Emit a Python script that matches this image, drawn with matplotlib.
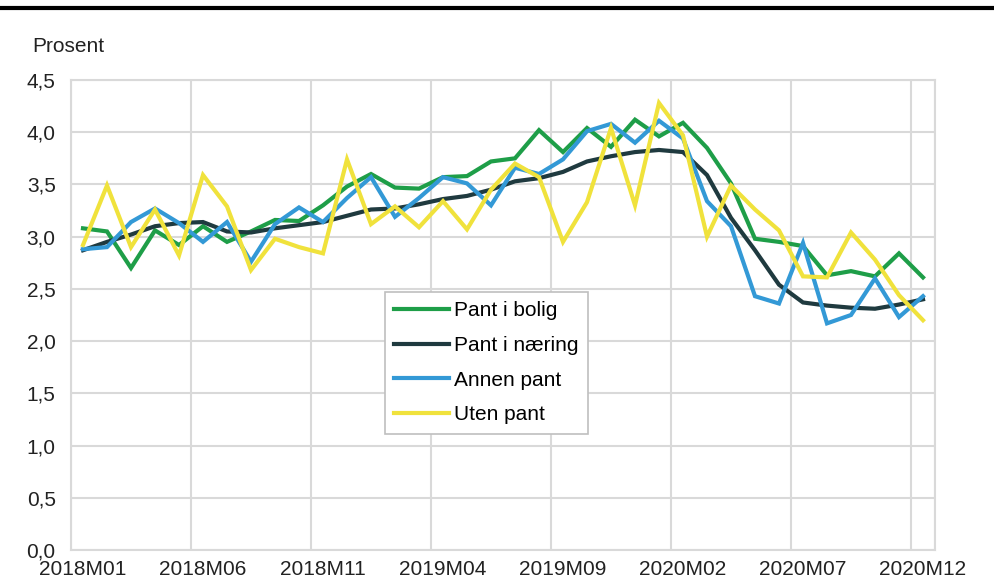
import numpy as np
import matplotlib.pyplot as plt
from matplotlib.lines import Line2D
from matplotlib.ticker import FuncFormatter, MultipleLocator

plt.rcParams['font.family'] = ['Liberation Sans', 'DejaVu Sans']

# Månedlige kategorier 2018M01 - 2020M12
maaneder = [f"{aar}M{m:02d}" for aar in (2018, 2019, 2020) for m in range(1, 13)]

pant_i_bolig = [3.08, 3.05, 2.70, 3.06, 2.92, 3.10, 2.95, 3.05, 3.16, 3.15,
                3.30, 3.48, 3.60, 3.47, 3.46, 3.57, 3.58, 3.72, 3.75, 4.02,
                3.81, 4.04, 3.86, 4.12, 3.96, 4.09, 3.85, 3.51, 2.98, 2.95,
                2.91, 2.63, 2.67, 2.62, 2.84, 2.61]
pant_i_naering = [2.87, 2.95, 3.02, 3.10, 3.13, 3.14, 3.05, 3.04, 3.08, 3.11,
                  3.14, 3.20, 3.26, 3.27, 3.31, 3.36, 3.39, 3.45, 3.53, 3.56,
                  3.62, 3.72, 3.77, 3.81, 3.83, 3.81, 3.59, 3.18, 2.87, 2.54,
                  2.37, 2.34, 2.32, 2.31, 2.35, 2.40]
annen_pant = [2.88, 2.90, 3.14, 3.27, 3.13, 2.95, 3.14, 2.76, 3.12, 3.28,
              3.14, 3.37, 3.57, 3.19, 3.37, 3.57, 3.51, 3.30, 3.66, 3.60,
              3.74, 4.01, 4.08, 3.90, 4.11, 3.94, 3.34, 3.10, 2.43, 2.36,
              2.94, 2.17, 2.25, 2.60, 2.23, 2.43]
uten_pant = [2.92, 3.49, 2.90, 3.26, 2.82, 3.59, 3.29, 2.68, 2.98, 2.90,
             2.84, 3.74, 3.12, 3.29, 3.09, 3.34, 3.07, 3.45, 3.70, 3.57,
             2.95, 3.33, 4.04, 3.30, 4.28, 3.97, 3.00, 3.49, 3.26, 3.06,
             2.62, 2.61, 3.04, 2.78, 2.44, 2.20]

serier = [
    ("Pant i bolig", pant_i_bolig, "#1e9e48"),
    ("Pant i næring", pant_i_naering, "#1f3a3f"),
    ("Annen pant", annen_pant, "#3399d6"),
    ("Uten pant", uten_pant, "#f0e23c"),
]

fig = plt.figure(figsize=(9.95, 5.83), dpi=100)
ax = fig.add_axes([71 / 995, 1 - 550 / 583, (935 - 71) / 995, (550 - 80) / 583])

x = np.arange(len(maaneder))
for navn, verdier, farge in serier:
    ax.plot(x, verdier, color=farge, lw=3, label=navn, solid_joinstyle='miter', zorder=3)

grid_farge = '#d9d9d9'
ax.set_xlim(-0.5, len(maaneder) - 0.5)
ax.set_ylim(0, 4.5)
ax.yaxis.set_major_locator(MultipleLocator(0.5))
ax.yaxis.set_major_formatter(FuncFormatter(lambda v, p: f"{v:.1f}".replace('.', ',')))
ax.set_xticks(x[::5])
ax.set_xticklabels(maaneder[::5])
ax.tick_params(length=0, labelsize=15, colors='#222222')
ax.tick_params(axis='y', pad=11)
ax.tick_params(axis='x', pad=7)

ax.grid(axis='y', color=grid_farge, lw=1.5, zorder=0)
for xv in list(np.arange(-0.5, len(maaneder), 5)) + [len(maaneder) - 0.5]:
    ax.axvline(xv, color=grid_farge, lw=1.5, zorder=0)
for s in ax.spines.values():
    s.set_color(grid_farge)
    s.set_linewidth(1.5)

ax.text(-39 / 864, (550 - 46) / 470, "Prosent", transform=ax.transAxes, fontsize=15,
        color='#222222', ha='left', va='center')

leg = ax.legend(loc='upper left', bbox_to_anchor=(385 / 995, 1 - 292 / 583),
                bbox_transform=fig.transFigure, borderaxespad=0, fontsize=15,
                frameon=True, fancybox=False, edgecolor='#bfbfbf', framealpha=1,
                handlelength=2.6, handletextpad=0.25, labelspacing=0.75, borderpad=0.45)
leg.get_frame().set_linewidth(1.2)

# svart linje i toppen
fig.add_artist(Line2D([0, 1], [1 - 8 / 583] * 2, color='black', lw=3))

fig.savefig("out.png", dpi=100)
